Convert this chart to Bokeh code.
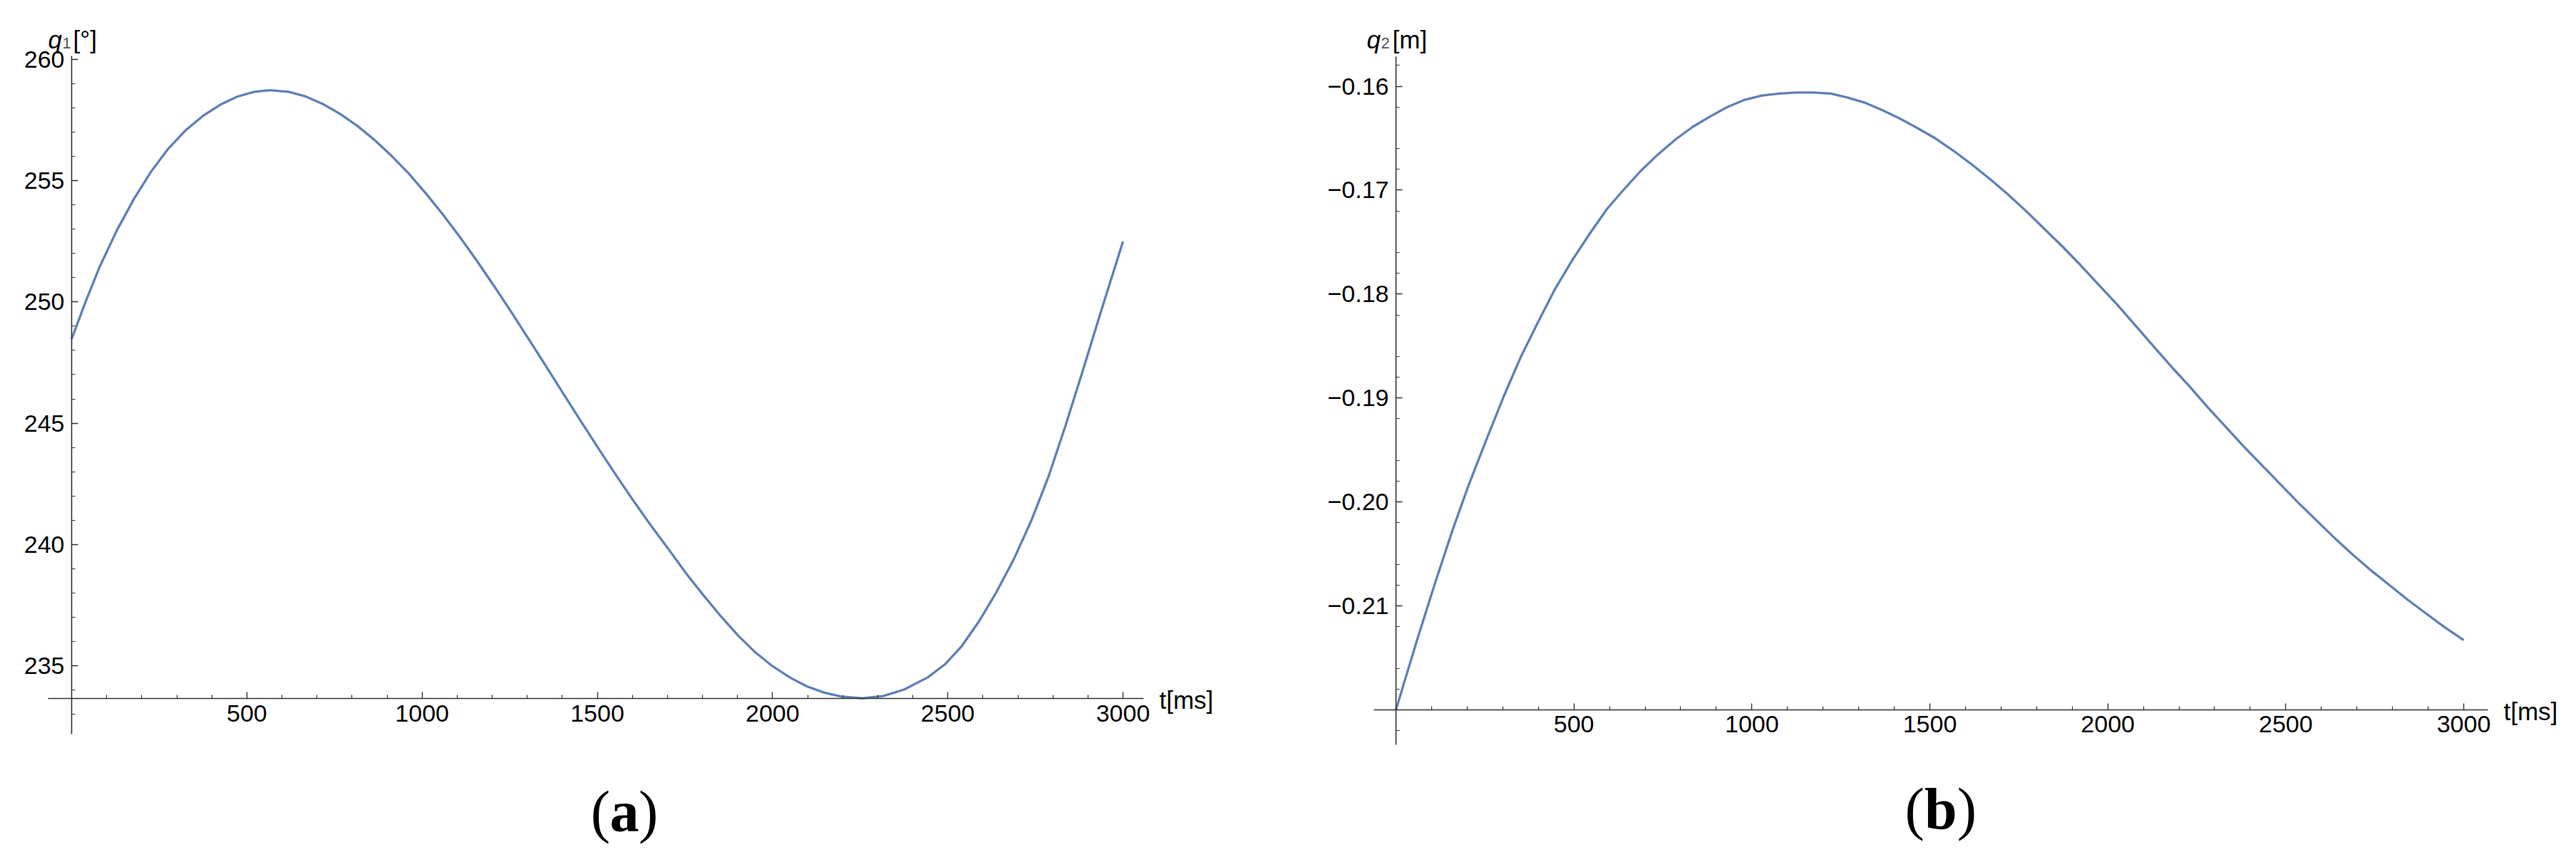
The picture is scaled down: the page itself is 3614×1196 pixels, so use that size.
from bokeh.plotting import figure
from bokeh.models import Label, FixedTicker, Range1d
from bokeh.layouts import row
from bokeh.embed import file_html
from bokeh.resources import INLINE

# ---------------- data ----------------
# panel (a): joint angle q1 [deg] vs time [ms]
t_a = [0, 41, 80, 129, 178, 227, 276, 325, 374, 423, 472, 521, 565, 619, 668,
       717, 766, 815, 864, 913, 962, 1011, 1060, 1109, 1158, 1207, 1256, 1305,
       1354, 1403, 1452, 1505, 1557, 1606, 1655, 1705, 1754, 1803, 1852, 1902,
       1951, 2000, 2049, 2098, 2148, 2197, 2256, 2315, 2374, 2443, 2492, 2541,
       2590, 2639, 2689, 2738, 2787, 2836, 2885, 2935, 3000]
q1 = [248.47, 250.05, 251.45, 252.95, 254.25, 255.38, 256.32, 257.07, 257.66,
      258.12, 258.46, 258.66, 258.73, 258.66, 258.47, 258.16, 257.75, 257.26,
      256.68, 256.02, 255.29, 254.47, 253.59, 252.65, 251.66, 250.62, 249.55,
      248.45, 247.34, 246.22, 245.11, 243.92, 242.78, 241.74, 240.74, 239.77,
      238.80, 237.90, 237.05, 236.24, 235.55, 234.98, 234.52, 234.15, 233.89,
      233.73, 233.66, 233.75, 234.01, 234.52, 235.06, 235.83, 236.85, 238.04,
      239.41, 240.97, 242.78, 244.90, 247.15, 249.50, 252.49]

# panel (b): joint displacement q2 [m] vs time [ms]
t_b = [0, 21, 60, 108, 157, 205, 254, 302, 350, 399, 447, 496, 544, 593, 641,
       689, 738, 786, 834, 883, 931, 980, 1028, 1077, 1125, 1173, 1222, 1270,
       1319, 1367, 1415, 1464, 1515, 1566, 1617, 1668, 1719, 1770, 1821, 1872,
       1923, 1974, 2026, 2077, 2128, 2179, 2230, 2281, 2332, 2383, 2434, 2485,
       2536, 2587, 2638, 2689, 2740, 2791, 2842, 2893, 2944, 3000]
q2 = [-0.2200, -0.2176, -0.2132, -0.2080, -0.2029, -0.1983, -0.1940, -0.1899,
      -0.1861, -0.1827, -0.1795, -0.1767, -0.1742, -0.1718, -0.1699, -0.1681,
      -0.1665, -0.1651, -0.1639, -0.1629, -0.1620, -0.1613, -0.1609, -0.1607,
      -0.1606, -0.1606, -0.1607, -0.1611, -0.1616, -0.1623, -0.1631, -0.1640,
      -0.1650, -0.1662, -0.1675, -0.1689, -0.1704, -0.1720, -0.1737, -0.1754,
      -0.1772, -0.1791, -0.1810, -0.1830, -0.1850, -0.1870, -0.1889, -0.1909,
      -0.1928, -0.1947, -0.1965, -0.1983, -0.2001, -0.2018, -0.2035, -0.2051,
      -0.2066, -0.2080, -0.2094, -0.2107, -0.2120, -0.2133]

# ticks
x_major = [500, 1000, 1500, 2000, 2500, 3000]
x_minor = [v for v in range(100, 3001, 100) if v % 500 != 0]
y_major_a = [235, 240, 245, 250, 255, 260]
y_minor_a = [v for v in range(233, 261) if v % 5 != 0]
y_major_b = [-0.21, -0.20, -0.19, -0.18, -0.17, -0.16]
y_labels_b = ["\u22120.21", "\u22120.20", "\u22120.19", "\u22120.18", "\u22120.17", "\u22120.16"]
y_minor_b = [round(-0.222 + 0.002 * i, 3) for i in range(33) if i % 5 != 4]

# ---------------- styling ----------------
LINE_COLOR = "#5E81B5"
AX_COLOR = "#333333"
FONT = "Liberation Sans"
SERIF = "Liberation Serif"
HEIGHT = 1188


def make_panel(width, view_x, view_y, axis_x, axis_y, x_origin_y, xt, xm, yt, ym):
    p = figure(width=width, height=HEIGHT,
               x_range=Range1d(*view_x), y_range=Range1d(*view_y),
               output_backend="svg", toolbar_location=None, title=None,
               min_border=0)
    p.xgrid.visible = False
    p.ygrid.visible = False
    p.outline_line_color = None
    p.background_fill_color = "white"
    p.border_fill_color = "white"
    for ax in p.axis:
        ax.axis_line_color = AX_COLOR
        ax.axis_line_width = 1.6
        ax.major_tick_in = 9
        ax.major_tick_out = 0
        ax.minor_tick_in = 5
        ax.minor_tick_out = 0
        ax.major_tick_line_color = AX_COLOR
        ax.minor_tick_line_color = AX_COLOR
        ax.major_tick_line_width = 1.4
        ax.minor_tick_line_width = 1.2
        ax.major_label_text_font = FONT
        ax.major_label_text_font_size = "34px"
        ax.major_label_text_color = "#000000"
    p.xaxis.ticker = FixedTicker(ticks=xt, minor_ticks=xm)
    p.yaxis.ticker = FixedTicker(ticks=yt, minor_ticks=ym)
    p.xaxis.bounds = axis_x
    p.yaxis.bounds = axis_y
    p.xaxis.major_label_standoff = 9
    p.yaxis.major_label_standoff = 10
    p.yaxis.fixed_location = 0
    p.xaxis.fixed_location = x_origin_y
    return p


def add_text(p, x, y, text, dx, dy, size, style="normal", color="#000000",
             font=FONT, align="left", baseline="alphabetic"):
    p.add_layout(Label(x=x, y=y, x_offset=dx, y_offset=dy, text=text,
                       text_font=font, text_font_size=f"{size}px",
                       text_font_style=style, text_color=color,
                       text_align=align, text_baseline=baseline))


def add_panel_tag(p, axis_x, axis_y, letter, dx, dy, half_w):
    xc = (axis_x[0] + axis_x[1]) / 2
    yb = axis_y[0]
    add_text(p, xc, yb, "(", dx - half_w, dy, 82, font=SERIF, align="right", baseline="middle")
    add_text(p, xc, yb, letter, dx, dy, 82, style="bold", font=SERIF, align="center", baseline="middle")
    add_text(p, xc, yb, ")", dx + half_w, dy, 82, font=SERIF, align="left", baseline="middle")


# ---------------- panel (a) ----------------
AXIS_ORIGIN_A = 233.64
AX_X_A = (-67, 3059)
AX_Y_A = (232.18, 260.14)
pa = make_panel(1808, (-203.4, 3473.9), (227.542, 262.432), AX_X_A, AX_Y_A,
                AXIS_ORIGIN_A, x_major, x_minor, y_major_a, y_minor_a)
pa.line(t_a, q1, line_color=LINE_COLOR, line_width=3.3)
add_text(pa, 0, AX_Y_A[1], "q", -33, 23, 35, style="italic")
add_text(pa, 0, AX_Y_A[1], "1", -13, 18, 22, color="#555555")
add_text(pa, 0, AX_Y_A[1], "[\u00b0]", 2, 23, 35)
add_text(pa, AX_X_A[1], AXIS_ORIGIN_A, "t[ms]", 22, -2, 35, baseline="middle")
add_panel_tag(pa, AX_X_A, AX_Y_A, "a", 40, -109, 20)

# ---------------- panel (b) ----------------
AXIS_ORIGIN_B = -0.2200
AX_X_B = (-62.7, 3068)
AX_Y_B = (-0.22337, -0.15715)
pb = make_panel(1798, (-300.4, 3300.4), (-0.233170, -0.151733), AX_X_B, AX_Y_B,
                AXIS_ORIGIN_B, x_major, x_minor, y_major_b, y_minor_b)
pb.yaxis.major_label_overrides = dict(zip(y_major_b, y_labels_b))
pb.line(t_b, q2, line_color=LINE_COLOR, line_width=3.3)
add_text(pb, 0, AX_Y_B[1], "q", -41, 24, 35, style="italic")
add_text(pb, 0, AX_Y_B[1], "2", -21, 19, 22, color="#555555")
add_text(pb, 0, AX_Y_B[1], "[m]", -5, 24, 35)
add_text(pb, AX_X_B[1], AXIS_ORIGIN_B, "t[ms]", 22, -2, 35, baseline="middle")
add_panel_tag(pb, AX_X_B, AX_Y_B, "b", 14, -90, 23)

layout = row(pa, pb, spacing=0)
open("out.html", "w").write(file_html(layout, INLINE))
